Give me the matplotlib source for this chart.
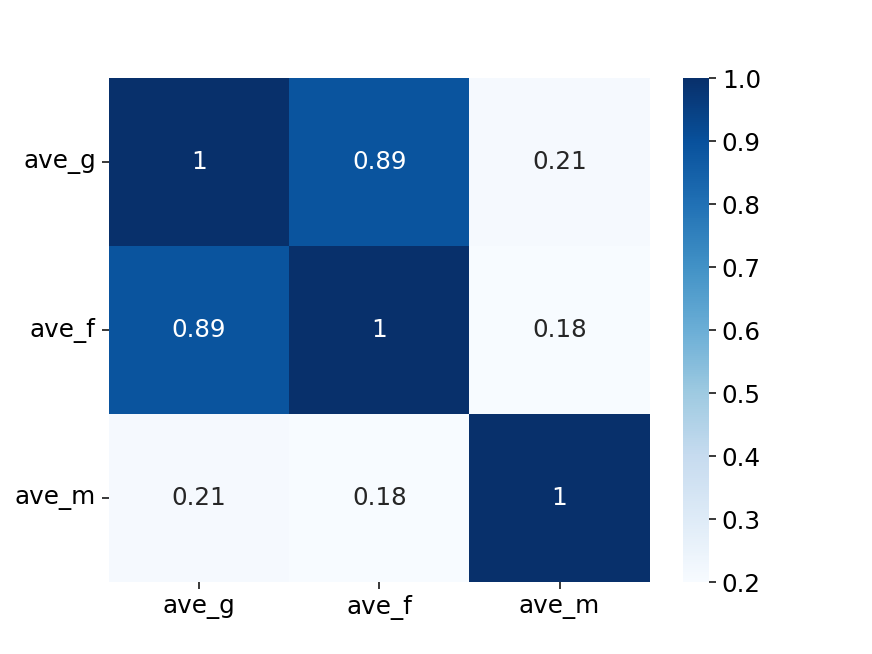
import matplotlib
matplotlib.use("Agg")

import matplotlib.pyplot as plt
import numpy as np
import seaborn as sns

labels = ["ave_g", "ave_f", "ave_m"]
corr = [
    [1.0, 0.89, 0.21],
    [0.89, 1.0, 0.18],
    [0.21, 0.18, 1.0],
]

plt.rcParams["font.size"] = 13

fig, ax = plt.subplots(figsize=(6.4, 4.8), dpi=136.25)
sns.heatmap(np.array(corr), annot=True, cmap="Blues", vmin=0.2, vmax=1.0,
            xticklabels=labels, yticklabels=labels, ax=ax)
ax.tick_params(axis="y", rotation=0)
fig.savefig("out.png", dpi=136.25)
